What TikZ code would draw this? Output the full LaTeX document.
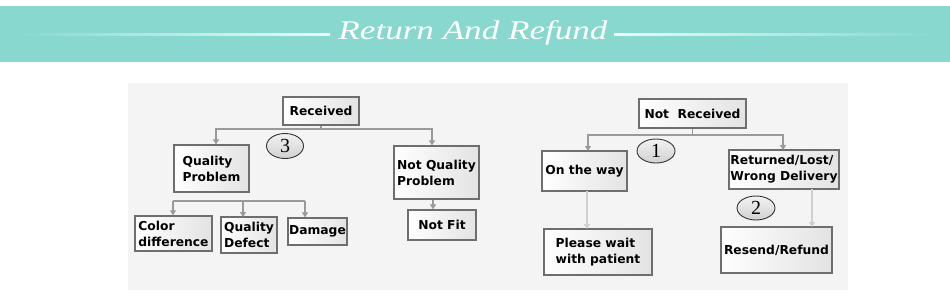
\documentclass[tikz,border=0pt]{standalone}
\usepackage{fontspec}
\usetikzlibrary{arrows.meta,shapes.geometric,shadows}
\newfontfamily\boxfont{DejaVu Sans}
\newfontfamily\numfont{Liberation Serif}
\newfontfamily\titlefont{Liberation Serif}[FakeStretch=1.3]
\definecolor{banner}{HTML}{88D8D0}
\definecolor{panel}{HTML}{F4F4F4}
\definecolor{boxedge}{HTML}{6E6E6E}
\definecolor{conn}{HTML}{9A9A9A}
\definecolor{connlight}{HTML}{D0D0D0}
\tikzset{
  box/.style={draw=boxedge, line width=1.3pt, left color=white, right color=black!11,
    drop shadow={opacity=0.25, shadow xshift=1pt, shadow yshift=-1pt},
    inner sep=1pt, font=\boxfont\bfseries\fontsize{12.3}{16}\selectfont, align=left},
  numoval/.style={ellipse, draw=black!80, line width=0.9pt, inner sep=0pt,
    top color=black!5, bottom color=black!18,
    font=\numfont\fontsize{20}{20}\selectfont},
  conn/.style={draw=conn, line width=1.8pt, -{Triangle[length=5pt,width=6pt]}},
  connline/.style={draw=conn, line width=1.8pt},
  connpale/.style={draw=connlight, line width=1.8pt, -{Triangle[length=5pt,width=6pt]}}
}
\begin{document}
\begin{tikzpicture}[x=1pt,y=-1pt]
\useasboundingbox (0,0) rectangle (950,292);
\fill[white] (0,0) rectangle (950,292);
% banner
\fill[banner] (0,6) rectangle (950,62);
\shade[left color=banner, right color=white!85!banner] (15,33) rectangle (330,35);
\shade[left color=white!85!banner, right color=banner] (614,33) rectangle (933,35);
\node[text=white, font=\titlefont\itshape\fontsize{27}{27}\selectfont, inner sep=0pt] (title) at (473,33) {Return And Refund};
% panel
\fill[panel] (128,83) rectangle (848,290);

% left tree
\node[box, minimum width=76, minimum height=28] (rec) at (321,111) {Received};
\node[box, minimum width=75, minimum height=47] (qp) at (211.5,168.5) {Quality\\Problem};
\node[box, minimum width=85, minimum height=53] (nqp) at (436.5,172.5) {Not Quality\\Problem};
\node[box, minimum width=68, minimum height=30] (nf) at (442,225) {Not Fit};
\node[box, minimum width=77, minimum height=35, inner sep=0.5pt] (cd) at (173.5,233.5) {Color\\difference};
\node[box, minimum width=56, minimum height=36, inner sep=0.5pt] (qd) at (249,235) {Quality\\Defect};
\node[box, minimum width=59, minimum height=27] (dm) at (317.5,231.5) {Damage};
\node[numoval, minimum width=37, minimum height=25] (e3) at (285,146) {3};

\coordinate (j1) at (321,129);
\draw[connline] (rec.south) -- (j1);
\draw[conn] (j1) -| ([xshift=4.5pt]qp.north);
\draw[conn] (j1) -| ([xshift=-4.5pt]nqp.north);
\draw[conn] ([xshift=-3.5pt]nqp.south) -- ([xshift=-3.5pt]nqp.south |- nf.north);
\coordinate (s1) at (173,201);
\coordinate (s2) at (305,201);
\draw[connline] (s1) -- (s2);
\draw[conn] (s1) -- (s1 |- cd.north);
\draw[conn] (243,201) -- (243,217);
\draw[conn] (s2) -- (s2 |- dm.north);

% right tree
\node[box, minimum width=107, minimum height=29] (nr) at (692.5,113.5) {Not\ \ Received};
\node[box, minimum width=85, minimum height=40] (otw) at (584.5,171) {On the way};
\node[box, minimum width=110, minimum height=39, inner sep=0.5pt] (rl) at (784,169.5) {Returned/Lost/\\Wrong Delivery};
\node[box, minimum width=108, minimum height=46] (pw) at (598,252) {Please wait\\with patient};
\node[box, minimum width=111, minimum height=46] (rr) at (776.5,250) {Resend/Refund};
\node[numoval, minimum width=38, minimum height=24] (e1) at (656,151) {1};
\node[numoval, minimum width=38, minimum height=24] (e2) at (756,208) {2};

\coordinate (j2) at (692.5,135);
\draw[connline] (nr.south) -- (j2);
\draw[conn] (j2) -| (588,151);
\draw[conn] (j2) -| (783,150);
\draw[connpale] (587,191) -- (587,229);
\draw[connpale] (812,189) -- (812,227);
\end{tikzpicture}
\end{document}
